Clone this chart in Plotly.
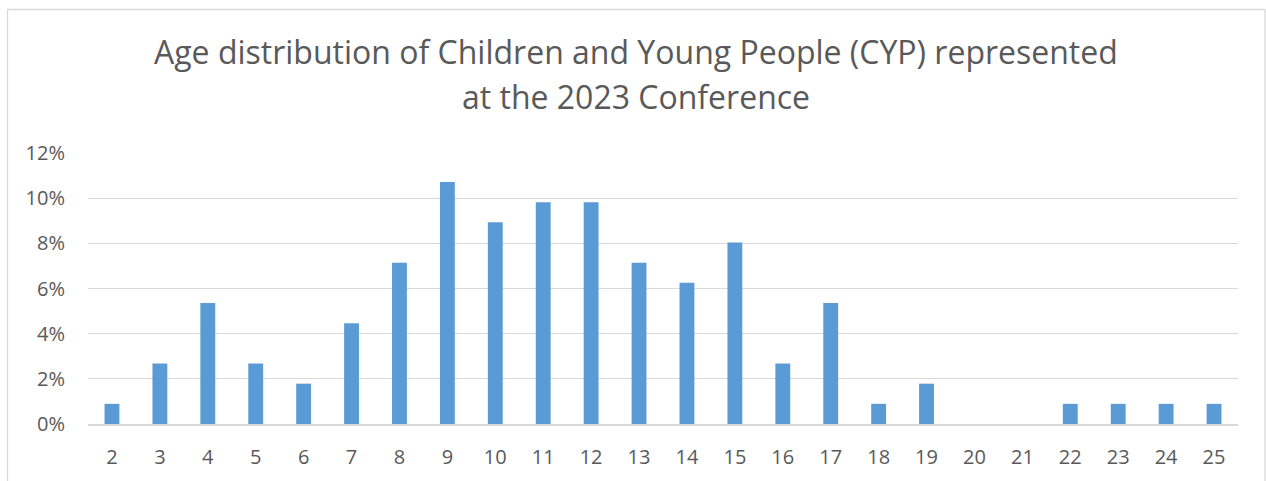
import plotly.graph_objects as go

ages = [str(a) for a in range(2, 26)]
counts = [1, 3, 6, 3, 2, 5, 8, 12, 10, 11, 11, 8, 7, 9, 3, 6, 1, 2, 0, 0, 1, 1, 1, 1]
total = 112
shares = [c / total for c in counts]
y_ticks = [0, 0.02, 0.04, 0.06, 0.08, 0.10, 0.12]
y_tick_labels = ["0%", "2%", "4%", "6%", "8%", "10%", "12%"]
title_line1 = "Age distribution of Children and Young People (CYP) represented"
title_line2 = "at the 2023 Conference"

W, H = 1266, 481
L, R, T, B = 88, 28, 153, 57
pw, ph = W - L - R, H - T - B

FONT = "Open Sans"
GRAY = "#595959"
GRID = "#d9d9d9"

fig = go.Figure(go.Bar(x=ages, y=shares, marker=dict(color="#5B9BD5", line=dict(width=0)),
                       hoverinfo="skip"))

def px_x(x):
    return (x - L) / pw

def px_y(y):
    return (H - B - y) / ph

fig.update_layout(
    width=W, height=H,
    margin=dict(l=L, r=R, t=T, b=B),
    paper_bgcolor="white", plot_bgcolor="white",
    bargap=0.69,
    showlegend=False,
    font=dict(family=FONT, color=GRAY),
    xaxis=dict(type="category", showgrid=False, showline=True, linecolor=GRID, linewidth=1.5,
               ticks="", tickfont=dict(size=20, color=GRAY, family=FONT), ticklabelstandoff=14),
    yaxis=dict(range=[0, 0.12], tickvals=y_ticks, ticktext=y_tick_labels, showgrid=True,
               gridcolor=GRID, gridwidth=1.3, zeroline=False, showline=False, ticks="",
               tickfont=dict(size=20, color=GRAY, family=FONT), ticklabelstandoff=22),
    shapes=[dict(type="rect", xref="paper", yref="paper",
                 x0=px_x(7.5), x1=px_x(1265), y0=px_y(490), y1=px_y(9.5),
                 line=dict(color=GRID, width=1.3), fillcolor="rgba(0,0,0,0)", layer="below")],
    annotations=[
        dict(text=title_line1, xref="paper", yref="paper", x=px_x(636), y=px_y(52),
             xanchor="center", yanchor="middle", showarrow=False,
             font=dict(size=32, color=GRAY, family=FONT)),
        dict(text=title_line2, xref="paper", yref="paper", x=px_x(636), y=px_y(97),
             xanchor="center", yanchor="middle", showarrow=False,
             font=dict(size=32, color=GRAY, family=FONT)),
    ],
)

fig.write_html("out.html")
